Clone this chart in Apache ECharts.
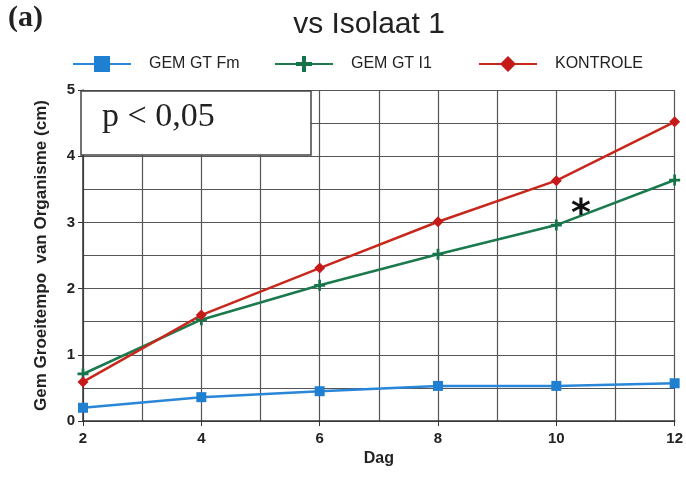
<!DOCTYPE html>
<html><head><meta charset="utf-8">
<script src="https://cdn.jsdelivr.net/npm/echarts@6/dist/echarts.min.js"></script>
<style>html,body{margin:0;padding:0;background:#fff}#c{width:686px;height:478px}</style>
</head><body><div id="c"></div>
<script>
const days = [2, 4, 6, 8, 10, 12];
const gemGtFm = [0.20, 0.36, 0.45, 0.53, 0.53, 0.57];
const gemGtI1 = [0.71, 1.53, 2.05, 2.52, 2.96, 3.64];
const kontrole = [0.59, 1.60, 2.31, 3.01, 3.63, 4.52];
const seriesNames = ['GEM GT Fm', 'GEM GT I1', 'KONTROLE'];

const pair = arr => days.map((d, i) => [d, arr[i]]);
const plus = 'path://M-1,-4 L1,-4 L1,-1 L4,-1 L4,1 L1,1 L1,4 L-1,4 L-1,1 L-4,1 L-4,-1 L-1,-1 Z';
const F = '"Liberation Sans", Arial, sans-serif';
const legendLefts = [67, 269, 473];
const legendBase = {
  top: 51, itemWidth: 58, itemHeight: 20,
  textStyle: {fontFamily: F, fontSize: 16, color: '#222', padding: [0,0,0,13]}
};
const chart = echarts.init(document.getElementById('c'), null, {renderer: 'canvas'});
chart.setOption({
  animation: false,
  backgroundColor: '#fff',
  title: {text: 'vs Isolaat 1', left: 364, top: 5, textAlign: 'center',
    textStyle: {fontFamily: F, fontSize: 30, fontWeight: 'normal', color: '#222'}},
  legend: seriesNames.map((n, i) => Object.assign({}, legendBase, {left: legendLefts[i], data: [n]})),
  grid: {left: 83, right: 11, top: 90, bottom: 57},
  xAxis: {
    type: 'value', min: 2, max: 12, interval: 2,
    name: 'Dag', nameLocation: 'middle', nameGap: 28,
    nameTextStyle: {fontFamily: F, fontSize: 16, fontWeight: 'bold', color: '#222'},
    axisLine: {lineStyle: {color: '#333', width: 1.5}},
    axisTick: {show: true, length: 5, lineStyle: {color: '#333'}},
    axisLabel: {fontFamily: F, fontSize: 15, fontWeight: 'bold', color: '#222', margin: 10},
    splitLine: {show: true, lineStyle: {color: '#555', width: 1.2}},
    minorTick: {show: false, splitNumber: 2},
    minorSplitLine: {show: true, lineStyle: {color: '#555', width: 1.2}}
  },
  yAxis: {
    type: 'value', min: 0, max: 5, interval: 1,
    name: 'Gem Groeitempo  van Organisme (cm)', nameLocation: 'middle', nameGap: 33,
    nameTextStyle: {fontFamily: F, fontSize: 17, fontWeight: 'bold', color: '#222'},
    axisLine: {show: true, lineStyle: {color: '#333', width: 1.5}},
    axisTick: {show: true, length: 5, lineStyle: {color: '#333'}},
    axisLabel: {fontFamily: F, fontSize: 15, fontWeight: 'bold', color: '#222', margin: 8},
    splitLine: {show: true, lineStyle: {color: '#555', width: 1.2}},
    minorTick: {show: false, splitNumber: 2},
    minorSplitLine: {show: true, lineStyle: {color: '#555', width: 1.2}}
  },
  series: [
    {name: seriesNames[0], type: 'line', data: pair(gemGtFm), symbol: 'rect', symbolSize: 10,
     itemStyle: {color: '#1f7fd0'}, lineStyle: {width: 2.5, color: '#2a86d6'}},
    {name: seriesNames[1], type: 'line', data: pair(gemGtI1), symbol: plus, symbolSize: 11,
     itemStyle: {color: '#17744a'}, lineStyle: {width: 2.5, color: '#1a7a4e'}},
    {name: seriesNames[2], type: 'line', data: pair(kontrole), symbol: 'diamond', symbolSize: 11,
     itemStyle: {color: '#c41a1a'}, lineStyle: {width: 2.5, color: '#c8281c'}}
  ],
  graphic: [
    {type: 'text', left: 8, top: 3, style: {text: '(a)', fontFamily: '"Liberation Serif", "DejaVu Serif", serif', fontSize: 30, fontWeight: 'bold', fill: '#222'}},
    {type: 'rect', shape: {x: 81, y: 91, width: 230, height: 64}, style: {fill: '#fff', stroke: '#444', lineWidth: 1.5}, z: 100},
    {type: 'text', left: 102, top: 100, z: 101, style: {text: 'p < 0,05', fontFamily: '"Liberation Serif", "DejaVu Serif", serif', fontSize: 34, fill: '#222'}},
    {type: 'text', left: 571, top: 196, z: 101, style: {text: '*', fontFamily: '"DejaVu Sans", sans-serif', fontSize: 38, fontWeight: 'bold', fill: '#111'}}
  ]
});
</script></body></html>
